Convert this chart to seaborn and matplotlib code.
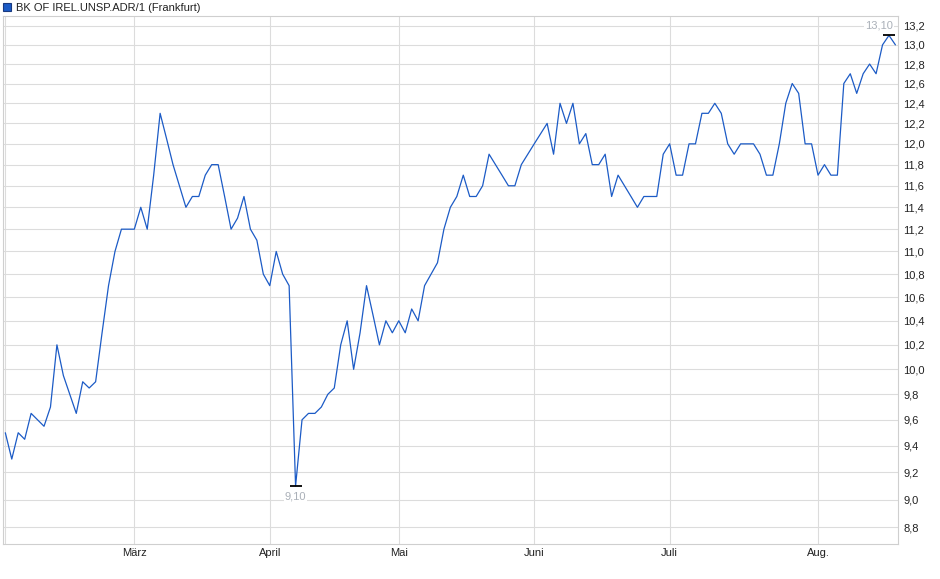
import matplotlib
matplotlib.use("Agg")
import matplotlib.pyplot as plt
import seaborn as sns
import pandas as pd
from matplotlib.patches import Patch
from matplotlib.ticker import FixedLocator, NullLocator

# ---- data ----
series_name = "BK OF IREL.UNSP.ADR/1 (Frankfurt)"

prices = [
    9.5, 9.3, 9.5, 9.45, 9.65, 9.6, 9.55, 9.7, 10.2, 9.95, 9.8, 9.65, 9.9, 9.85,
    9.9, 10.3, 10.7, 11.0, 11.2, 11.2, 11.2, 11.4, 11.2,
    11.7, 12.3, 12.05, 11.8, 11.6, 11.4, 11.5, 11.5, 11.7, 11.8, 11.8, 11.5,
    11.2, 11.3, 11.5, 11.2, 11.1, 10.8, 10.7, 11.0, 10.8, 10.7, 9.1,
    9.6, 9.65, 9.65, 9.7, 9.8, 9.85, 10.2, 10.4, 10.0, 10.3, 10.7, 10.45, 10.2,
    10.4, 10.3, 10.4, 10.3, 10.5, 10.4, 10.7, 10.8, 10.9, 11.2, 11.4, 11.5,
    11.7, 11.5, 11.5, 11.6, 11.9, 11.8, 11.7, 11.6, 11.6, 11.8, 11.9, 12.0,
    12.1, 12.2, 11.9, 12.4, 12.2, 12.4, 12.0, 12.1, 11.8, 11.8, 11.9, 11.5, 11.7,
    11.6, 11.5, 11.4, 11.5, 11.5, 11.5, 11.9, 12.0, 11.7, 11.7, 12.0, 12.0,
    12.3, 12.3, 12.4, 12.3, 12.0, 11.9, 12.0, 12.0, 12.0, 11.9, 11.7, 11.7,
    12.0, 12.4, 12.6, 12.5, 12.0, 12.0, 11.7, 11.8, 11.7, 11.7, 12.6, 12.7,
    12.5, 12.7, 12.8, 12.7, 13.0, 13.1, 13.0,
]

# trading-day index of the first session of each month
month_start_idx = [0, 20, 41, 61, 82, 103, 126]
month_labels = ["", "März", "April", "Mai", "Juni", "Juli", "Aug."]

y_ticks = [8.8, 9.0, 9.2, 9.4, 9.6, 9.8, 10.0, 10.2, 10.4, 10.6, 10.8, 11.0,
           11.2, 11.4, 11.6, 11.8, 12.0, 12.2, 12.4, 12.6, 12.8, 13.0, 13.2]
y_tick_labels = ["8,8", "9,0", "9,2", "9,4", "9,6", "9,8", "10,0", "10,2",
                 "10,4", "10,6", "10,8", "11,0", "11,2", "11,4", "11,6", "11,8",
                 "12,0", "12,2", "12,4", "12,6", "12,8", "13,0", "13,2"]

df = pd.DataFrame({"day": range(len(prices)), "price": prices})

# ---- style ----
sns.set_style("white")
plt.rcParams["font.family"] = ["Liberation Sans", "DejaVu Sans"]

line_color = "#1c5bc6"
grid_color = "#dcdcdc"
frame_color = "#cfcfcf"
note_color = "#aab0b8"
text_color = "#222222"

W, H = 940, 579
fig = plt.figure(figsize=(W / 100, H / 100), dpi=100)
left_px, right_px, top_px, bottom_px = 3, 898, 16, 544.4
ax = fig.add_axes([left_px / W, 1 - bottom_px / H,
                   (right_px - left_px) / W, (bottom_px - top_px) / H])

sns.lineplot(data=df, x="day", y="price", ax=ax, color=line_color,
             linewidth=0.9, zorder=3)

ax.set_yscale("log")
ax.set_ylim(8.68, 13.307)
ax.set_xlim(-0.36, 138.4)

ax.yaxis.set_major_locator(FixedLocator(y_ticks))
ax.yaxis.set_minor_locator(NullLocator())
ax.set_yticklabels(y_tick_labels)
ax.yaxis.tick_right()
ax.set_xticks(month_start_idx)
ax.set_xticklabels(month_labels)
ax.xaxis.set_minor_locator(NullLocator())

ax.tick_params(axis="y", length=0, pad=3.6, labelsize=8, colors=text_color)
ax.tick_params(axis="x", length=0, pad=2.8, labelsize=8, colors=text_color)
ax.set_xlabel("")
ax.set_ylabel("")

ax.grid(True, which="major", axis="both", color=grid_color, linewidth=0.8)
ax.set_axisbelow(True)
for sp in ax.spines.values():
    sp.set_visible(True)
    sp.set_color(frame_color)
    sp.set_linewidth(0.8)

# ---- min / max markers ----
imin = int(df["price"].idxmin())
imax = int(df["price"].idxmax())
vmin = df["price"].iloc[imin]
vmax = df["price"].iloc[imax]
for i, v in ((imin, vmin), (imax, vmax)):
    ax.plot([i], [v], marker="_", markersize=8, markeredgewidth=1.3,
            color="black", zorder=4)

bbox = dict(boxstyle="square,pad=0.1", facecolor="white", edgecolor="none")
ax.annotate(f"{vmin:.2f}".replace(".", ","), xy=(imin, vmin),
            xytext=(0, -7.6), textcoords="offset points", ha="center",
            va="center", fontsize=8, color=note_color, bbox=bbox, zorder=5)
ax.annotate(f"{vmax:.2f}".replace(".", ","), xy=(imax, vmax),
            xytext=(3.0, 7.0), textcoords="offset points", ha="right",
            va="center", fontsize=8, color=note_color, bbox=bbox, zorder=5)

# ---- legend ----
handle = Patch(facecolor=line_color, edgecolor="#1a3a80", linewidth=0.8)
fig.legend(handles=[handle], labels=[series_name], loc="upper left",
           bbox_to_anchor=(-0.004, 1.006), frameon=False, fontsize=8,
           handlelength=0.75, handleheight=0.75, handletextpad=0.4,
           labelcolor=text_color, borderaxespad=0.2)

fig.savefig("out.png", dpi=100)
